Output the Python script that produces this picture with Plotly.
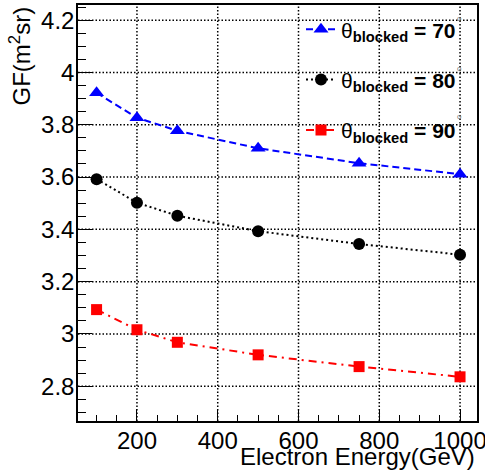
import plotly.graph_objects as go

energy = [100, 200, 300, 500, 750, 1000]
gf_70 = [3.922, 3.827, 3.777, 3.710, 3.653, 3.611]
gf_80 = [3.592, 3.502, 3.452, 3.393, 3.344, 3.303]
gf_90 = [3.093, 3.016, 2.968, 2.920, 2.875, 2.836]
labels = ["70", "80", "90"]
x_ticks = [200, 400, 600, 800, 1000]
y_ticks = [2.8, 3.0, 3.2, 3.4, 3.6, 3.8, 4.0, 4.2]

FONT = "Liberation Sans, Arial, sans-serif"

def legend_text(v):
    return "θ<sub><b>blocked</b></sub><b> = " + v + "</b>"

fig = go.Figure()
fig.add_trace(go.Scatter(
    x=energy, y=gf_70, mode="lines+markers", name=legend_text(labels[0]),
    legendgroup="a",
    line=dict(color="#0000ff", width=2, dash="7px,4px"),
    marker=dict(symbol="triangle-up", size=13, color="#0000ff")))
fig.add_trace(go.Scatter(
    x=energy, y=gf_80, mode="lines+markers", name=legend_text(labels[1]),
    legendgroup="b",
    line=dict(color="#000000", width=2, dash="2px,3px"),
    marker=dict(symbol="circle", size=12, color="#000000")))
fig.add_trace(go.Scatter(
    x=energy, y=gf_90, mode="lines+markers", name=legend_text(labels[2]),
    legendgroup="c",
    line=dict(color="#ff0000", width=2, dash="8px,5px,2px,5px"),
    marker=dict(symbol="square", size=11, color="#ff0000")))

# dotted grid drawn at the major tick values
grid_line = dict(color="black", width=1.5, dash="1.5px,2px")
for xv in x_ticks:
    fig.add_shape(type="line", xref="x", yref="paper", x0=xv, x1=xv, y0=0, y1=1,
                  line=grid_line, layer="below")
for yv in y_ticks:
    fig.add_shape(type="line", xref="paper", yref="y", x0=0, x1=1, y0=yv, y1=yv,
                  line=grid_line, layer="below")

axis_common = dict(
    showline=True, linecolor="black", linewidth=1.5, mirror=True,
    showgrid=False, zeroline=False, ticks="inside", tickcolor="black",
    tickfont=dict(family=FONT, size=24, color="black"),
    ticklabeloverflow="allow", automargin=False, ticklabelstandoff=-3,
)

fig.update_xaxes(
    range=[54, 1042], tickvals=x_ticks, ticklen=12, tickwidth=1,
    minor=dict(dtick=50, tick0=0, ticks="inside", ticklen=6, tickcolor="black", showgrid=False),
    **axis_common)
fig.update_yaxes(
    range=[2.667, 4.258], tickvals=y_ticks, ticklen=14, tickwidth=1,
    minor=dict(dtick=0.05, tick0=0, ticks="inside", ticklen=8, tickcolor="black", showgrid=False),
    **axis_common)

fig.add_annotation(
    text="GF(m<sup>2</sup>sr)", textangle=-90, showarrow=False,
    xref="paper", yref="paper", x=-(78 - 19) / 399, y=1.0,
    xanchor="center", yanchor="top",
    font=dict(family=FONT, size=24, color="black"))
fig.add_annotation(
    text="Electron Energy(GeV)", showarrow=False,
    xref="paper", yref="paper", x=1.0, y=(421 - 457) / 416,
    xanchor="right", yanchor="middle",
    font=dict(family=FONT, size=24, color="black"))

# small degree circles after each legend entry
for py in [18, 68, 117]:
    fig.add_annotation(
        text="o", showarrow=False, xref="paper", yref="paper",
        x=(459 - 78) / 399, y=1 - (py - 5) / 416,
        xanchor="center", yanchor="middle",
        font=dict(family=FONT, size=8, color="#777"))

fig.update_layout(
    width=485, height=475,
    margin=dict(l=78, r=8, t=5, b=54),
    paper_bgcolor="white", plot_bgcolor="white",
    showlegend=True,
    legend=dict(
        x=(301 - 78) / 399, y=0.99, xanchor="left", yanchor="top",
        bgcolor="rgba(0,0,0,0)", borderwidth=0,
        font=dict(family=FONT, size=21, color="black"),
        traceorder="grouped", tracegroupgap=20,
    ),
)

fig.write_html("out.html")
